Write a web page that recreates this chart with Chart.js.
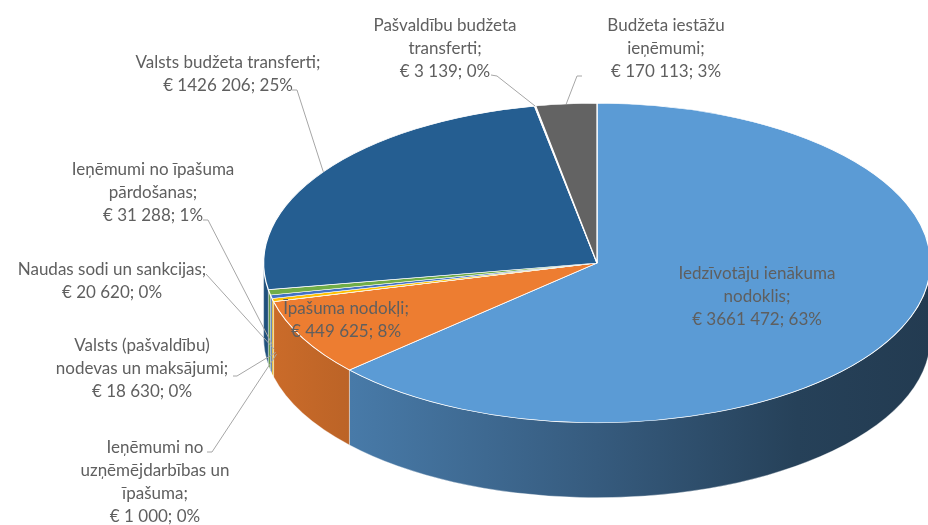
<!DOCTYPE html>
<html>
<head>
<meta charset="utf-8">
<script src="https://cdn.jsdelivr.net/npm/chart.js@4.4.0/dist/chart.umd.min.js"></script>
<style>
  html, body { margin: 0; padding: 0; background: #fff; }
  #wrap { width: 928px; height: 525px; position: relative; }
</style>
</head>
<body>
<div id="wrap"><canvas id="pieChart"></canvas></div>
<script>
// Chart data
const categories = [
    'Iedzīvotāju ienākuma nodoklis',
    'Īpašuma nodokļi',
    'Ieņēmumi no uzņēmējdarbības un īpašuma',
    'Valsts (pašvaldību) nodevas un maksājumi',
    'Naudas sodi un sankcijas',
    'Ieņēmumi no īpašuma pārdošanas',
    'Valsts budžeta transferti',
    'Pašvaldību budžeta transferti',
    'Budžeta iestāžu ieņēmumi'
];
const values = [3661472, 449625, 1000, 18630, 20620, 31288, 1426206, 3139, 170113];
const colors = ['#5B9BD5', '#ED7D31', '#A5A5A5', '#FFC000', '#4472C4', '#70AD47', '#255E91', '#9E480E', '#636363'];

// How each category name is wrapped in its data label
const labelLines = [
    ['Iedzīvotāju ienākuma', 'nodoklis;'],
    ['Īpašuma nodokļi;'],
    ['Ieņēmumi no', 'uzņēmējdarbības un', 'īpašuma;'],
    ['Valsts (pašvaldību)', 'nodevas un maksājumi;'],
    ['Naudas sodi un sankcijas;'],
    ['Ieņēmumi no īpašuma', 'pārdošanas;'],
    ['Valsts budžeta transferti;'],
    ['Pašvaldību budžeta', 'transferti;'],
    ['Budžeta iestāžu', 'ieņēmumi;']
];

// Label placement (centre x, middle of first line) and leader line start / elbow
const labelPos = [
    { x: 757, y: 274 },
    { x: 346, y: 309 },
    { x: 155, y: 448, lead: [[207, 452], [212, 452]], side: true },
    { x: 142, y: 346, lead: [[233, 376], [237, 376]], side: true },
    { x: 112, y: 270, lead: [[206, 274]], side: true },
    { x: 153, y: 170, lead: [[203, 220], [208, 220]], side: true },
    { x: 228, y: 63, lead: [[292, 90], [297, 90]] },
    { x: 445, y: 26, lead: [[491, 75], [497, 76]] },
    { x: 666, y: 26, lead: [[582, 76], [577, 76]] }
];

const SX = 334 / 262;   // horizontal stretch of the pie top
const SY = 160 / 262;   // vertical squash (tilt)
const DEPTH = 75;       // thickness of the pie
const LINE_H = 23;

const total = values.reduce((a, b) => a + b, 0);

function formatEuro(v) {
    const s = String(v);
    if (s.length <= 3) return '€ ' + s;
    return '€ ' + s.slice(0, s.length - 3) + ' ' + s.slice(-3);
}

function shade(hex, f) {
    const n = parseInt(hex.slice(1), 16);
    const r = Math.round(((n >> 16) & 255) * f);
    const g = Math.round(((n >> 8) & 255) * f);
    const b = Math.round((n & 255) * f);
    return `rgb(${r},${g},${b})`;
}

function pieGeom(chart) {
    const arc = chart.getDatasetMeta(0).data[0];
    return { cx: arc.x, cy: arc.y, rx: arc.outerRadius * SX, ry: arc.outerRadius * SY };
}

// Draws the walls of the pie and tilts the top face
const pie3d = {
    id: 'pie3d',
    beforeDatasetsDraw(chart) {
        const ctx = chart.ctx;
        const g = pieGeom(chart);
        const meta = chart.getDatasetMeta(0);

        meta.data.forEach((arc, i) => {
            const s = Math.max(arc.startAngle, 0);
            const e = Math.min(arc.endAngle, Math.PI);
            if (e <= s) return;
            const grad = ctx.createLinearGradient(g.cx - g.rx, 0, g.cx + g.rx, 0);
            grad.addColorStop(0, shade(colors[i], 0.86));
            grad.addColorStop(0.5, shade(colors[i], 0.59));
            grad.addColorStop(0.8, shade(colors[i], 0.42));
            grad.addColorStop(1, shade(colors[i], 0.38));
            ctx.save();
            ctx.beginPath();
            ctx.ellipse(g.cx, g.cy, g.rx, g.ry, 0, s, e);
            ctx.ellipse(g.cx, g.cy + DEPTH, g.rx, g.ry, 0, e, s, true);
            ctx.closePath();
            ctx.fillStyle = grad;
            ctx.fill();
            ctx.strokeStyle = 'rgba(255,255,255,0.45)';
            ctx.lineWidth = 0.8;
            ctx.stroke();
            ctx.restore();
        });

        ctx.save();
        ctx.translate(g.cx, g.cy);
        ctx.scale(SX, SY);
        ctx.translate(-g.cx, -g.cy);
    },
    afterDatasetsDraw(chart) {
        chart.ctx.restore();
    }
};

// Data labels with leader lines
const pieLabels = {
    id: 'pieLabels',
    afterDraw(chart) {
        const ctx = chart.ctx;
        const g = pieGeom(chart);
        const meta = chart.getDatasetMeta(0);
        ctx.save();
        ctx.font = '17px Lato';
        ctx.fillStyle = '#5f5f5f';
        ctx.textAlign = 'center';
        ctx.textBaseline = 'middle';

        values.forEach((v, i) => {
            const pct = Math.round(v / total * 100);
            const lines = labelLines[i].concat([formatEuro(v) + '; ' + pct + '%']);
            const p = labelPos[i];
            lines.forEach((t, k) => ctx.fillText(t, p.x, p.y + k * LINE_H));

            if (p.lead) {
                const arc = meta.data[i];
                const m = (arc.startAngle + arc.endAngle) / 2;
                let ax = g.cx + g.rx * Math.cos(m);
                let ay = g.cy + g.ry * Math.sin(m);
                if (p.side) { ax += 3; ay += DEPTH * 0.7; }
                ctx.beginPath();
                ctx.moveTo(p.lead[0][0], p.lead[0][1]);
                p.lead.slice(1).forEach(q => ctx.lineTo(q[0], q[1]));
                ctx.lineTo(ax, ay);
                ctx.strokeStyle = '#a6a6a6';
                ctx.lineWidth = 1;
                ctx.stroke();
            }
        });
        ctx.restore();
    }
};

const ctx = document.getElementById('pieChart').getContext('2d');
const pieChart = new Chart(ctx, {
    type: 'pie',
    data: {
        labels: categories,
        datasets: [{
            data: values,
            backgroundColor: colors,
            borderColor: '#ffffff',
            borderWidth: 1,
            clip: false
        }]
    },
    options: {
        responsive: true,
        maintainAspectRatio: false,
        animation: false,
        events: [],
        layout: { padding: { left: 335, right: 69, top: 1, bottom: 0 } },
        plugins: {
            legend: { display: false },
            tooltip: { enabled: false }
        }
    },
    plugins: [pie3d, pieLabels]
});
</script>
</body>
</html>
